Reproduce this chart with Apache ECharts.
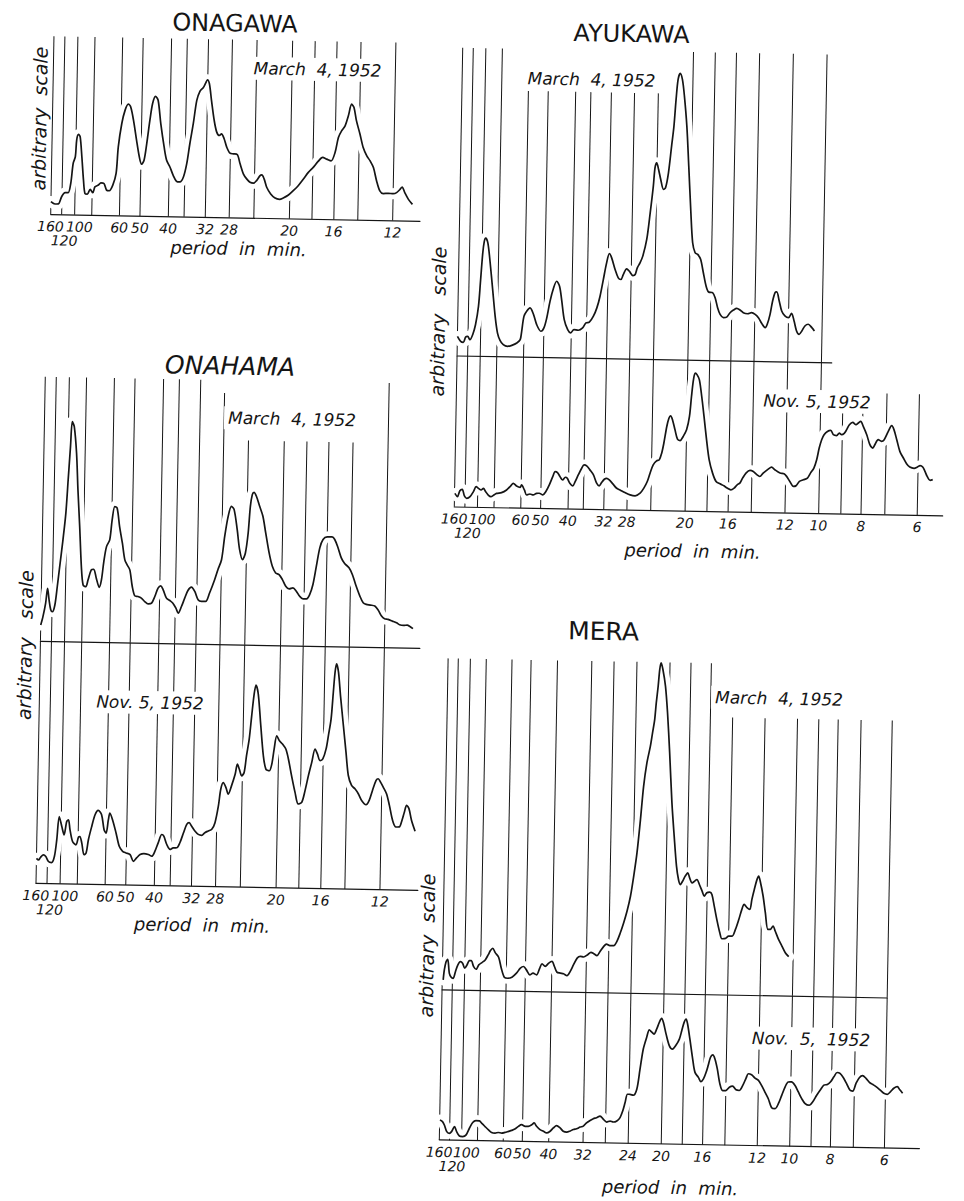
<!DOCTYPE html>
<html>
<head>
<meta charset="utf-8">
<title>Spectra of long-period sea-level oscillations</title>
<script src="https://cdn.jsdelivr.net/npm/echarts@6/dist/echarts.min.js"></script>
<style>
  html, body { margin: 0; padding: 0; background: #fff; }
  /* the sheet is laid out with a slight clockwise tilt */
  #sheet { width: 964px; height: 1201px; transform: rotate(1.05deg); transform-origin: 50% 50%; }
</style>
</head>
<body>
<div id="sheet"></div>
<script>
// ---------------------------------------------------------------------------
// Period scale: position of each period (min) on the frequency scale,
// 0 = 160 min, 100 = 12 min.
const PERIODS   = [160, 120, 100, 80, 60, 50, 40, 36, 32, 28, 24, 20, 18, 16, 14, 12, 10, 9, 8, 7, 6];
const SCALE_POS = [0, 3.2, 7.0, 12.0, 20.1, 26.1, 34.4, 39.0, 45.2, 52.2, 59.4, 69.8, 76.4, 82.8, 89.8, 100, 110.2, 116.9, 123.0, 130.2, 140.0];

// labelled periods under each station
const TICKS_ONAGAWA = [160, 120, 100, 60, 50, 40, 32, 28, 20, 16, 12];
const TICKS_AYUKAWA = [160, 120, 100, 60, 50, 40, 32, 28, 20, 16, 12, 10, 8, 6];
const TICKS_ONAHAMA = [160, 120, 100, 60, 50, 40, 32, 28, 20, 16, 12];
const TICKS_MERA    = [160, 120, 100, 60, 50, 40, 32, 24, 20, 16, 12, 10, 8, 6];

// ruled period lines
const RULES_TO_12 = [160, 120, 100, 80, 60, 50, 40, 36, 32, 28, 24, 20, 18, 16, 14, 12];
const RULES_TO_10 = RULES_TO_12.concat([10]);
const RULES_MERA  = [160, 120, 100, 80, 60, 50, 40, 32, 28, 24, 20, 18, 16, 14, 12, 10, 9, 8, 7, 6];

// spectra: [scale position, amplitude in arbitrary units]
const ONAGAWA_MAR = [[0,12.7],[1.2,10.4],[2.2,10.5],[3.1,17.8],[4.1,21.9],[5.0,21.9],[5.7,31.3],[6.3,51.3],[6.9,58],[7.2,74.7],[7.7,80.4],[8.2,78.1],[8.8,58.1],[9.4,34.8],[9.9,21.5],[10.6,20.9],[11.4,25.6],[12.2,22.3],[12.8,28.3],[13.8,30.1],[14.5,32.4],[15.4,31.8],[16.2,25.2],[17.0,24.6],[18.0,30.3],[18.9,42],[19.4,68.7],[20.3,92.1],[21.2,105.5],[22.1,111.5],[22.8,108.9],[23.7,95.6],[24.7,75.7],[25.6,59],[26.3,51.7],[27.0,55.8],[27.7,72.5],[28.5,95.9],[29.2,112.6],[30.0,119.9],[30.8,116],[31.7,92.7],[32.8,69.4],[33.6,56.1],[34.6,49.5],[35.6,41.2],[36.6,35.3],[37.6,34.7],[38.6,39.7],[39.5,53.1],[40.3,73.1],[41.2,93.2],[42.1,116.6],[43.0,126],[43.9,129.3],[44.6,134],[45.1,137.4],[45.7,133.4],[46.4,116.8],[47.3,96.8],[48.1,85.2],[48.9,81.9],[49.5,83.6],[50.3,78.7],[51.1,70.4],[52.1,64.4],[53.1,63.8],[54.2,63.2],[55.1,53.9],[56.1,44],[57.1,39],[58.1,35.7],[59.1,34.8],[60.0,37.5],[61.0,42.5],[61.5,43.2],[62.2,39.3],[63.0,31],[64.2,24.4],[65.5,20.4],[66.8,19.2],[67.9,20.6],[69.4,23.6],[70.8,28.1],[72.2,33.1],[73.7,39.9],[75.1,46.6],[76.5,51.7],[77.9,57.8],[79.2,61.8],[80.4,60.2],[81.7,58.6],[82.8,67],[83.7,82.1],[84.6,88.8],[85.6,93.8],[86.5,103.9],[87.4,115.6],[88.1,112.3],[88.9,99],[90.0,85.7],[91.0,72.5],[92.1,64.2],[93.1,59.2],[94.1,52.6],[95.1,39.3],[96.1,29.4],[97.1,26.8],[98.6,27.2],[100.0,26.9],[101.0,28],[102.0,31.4],[102.6,33.7],[103.4,28.1],[104.5,21.5],[105.7,16.5]];

const AYUKAWA_MAR = [[0,19.3],[1.0,14.4],[1.8,13.4],[2.5,18.8],[3.1,19.5],[3.8,16.2],[4.6,21.3],[5.4,31.3],[6.2,49.7],[6.7,76.4],[7.2,103.1],[7.6,114.8],[8.0,118.2],[8.7,113.2],[9.5,93.3],[10.4,66.7],[11.3,40.1],[12.1,23.4],[12.9,16.2],[13.9,11.9],[15.2,10.3],[16.5,11.4],[18.0,13.8],[19.0,17.2],[19.4,25.6],[20.0,40.6],[20.8,45.7],[21.8,49.1],[22.9,42.5],[23.9,32.5],[25.2,26],[26.1,29.4],[26.9,39.4],[27.8,56.1],[28.8,69.5],[29.7,76.3],[30.6,71.3],[31.3,58],[32.2,38.1],[33.3,28.1],[34.2,24.9],[35.2,28.3],[36.5,27.7],[37.8,30.1],[38.8,35.2],[39.8,35.9],[41.0,42],[42.0,50.4],[42.9,62.1],[43.8,78.8],[44.7,95.6],[45.5,105],[46.2,100.7],[47.3,89.1],[48.3,80.8],[49.1,79.2],[49.8,84.2],[50.8,90],[51.6,87.7],[52.7,83.4],[53.4,84.5],[54.0,91.2],[54.8,96.2],[55.6,103],[56.7,119.7],[57.6,146.4],[58.4,173.2],[58.8,191.5],[59.3,196.6],[59.9,189.9],[60.6,180],[61.5,170],[62.1,171.7],[62.9,186.8],[63.7,213.5],[64.3,233.6],[64.8,260.3],[65.3,280.3],[65.9,286.4],[66.6,280.4],[67.3,263.8],[68.2,233.8],[69.0,193.9],[69.9,147.2],[70.6,117.3],[71.4,107.3],[72.2,105.7],[73.1,100.8],[74.0,87.5],[74.9,74.2],[75.7,68.3],[76.9,67.7],[77.7,62.7],[78.5,52.8],[79.3,46.1],[80.3,42.9],[81.3,43.6],[82.3,48],[83.3,50.7],[84.3,52.5],[85.3,50.9],[86.3,48.3],[87.6,47.3],[88.8,48.4],[89.9,46.8],[90.9,43.6],[91.9,38],[93.0,33.7],[93.6,37.1],[94.4,47.1],[95.1,60.5],[95.8,68.9],[96.3,69.6],[97.1,60.6],[97.9,50.7],[98.9,45.8],[100.0,44.1],[100.9,48.5],[101.7,40.9],[102.5,31],[103.3,27.7],[104.1,31.1],[105.0,36.1],[106.0,37.9],[107.1,34.6],[107.9,31.3]];

const AYUKAWA_NOV = [[0.1,13.3],[0.9,10.1],[1.6,16.1],[2.3,17.5],[3.0,10.9],[3.7,8.6],[4.7,10.3],[5.7,15.4],[6.5,20.4],[7.2,18.8],[8.0,17.2],[8.7,18.9],[9.4,15.6],[10.2,12.3],[11.0,10.7],[11.9,12.4],[12.7,14.1],[14.2,14.9],[15.7,17.7],[16.9,21.7],[17.7,24.5],[18.7,21.9],[19.8,20.6],[20.2,23],[21.1,18],[21.8,13],[22.8,14.1],[23.8,13.2],[24.8,14.9],[25.6,15],[26.7,13.4],[27.6,16.8],[28.6,23.5],[29.6,31.9],[30.3,36.9],[31.0,36],[31.8,32],[32.6,28.7],[33.4,31.5],[34.0,30.5],[34.8,25.5],[35.7,22.9],[36.4,27.3],[37.3,34],[38.3,40.8],[39.0,44.1],[39.8,43.2],[40.8,39.3],[41.9,34.3],[42.9,26.1],[43.7,23.4],[44.4,26.8],[45.2,30.2],[45.9,31.2],[46.7,29.6],[47.8,25.7],[49.0,21.4],[50.0,19.8],[51.5,17.3],[53.1,15],[54.6,14.1],[56.1,16.9],[57.2,22],[58.2,28.7],[59.0,37.1],[59.9,45.5],[60.9,49.5],[61.7,50.6],[62.4,57.3],[63.0,67.3],[63.8,84.1],[64.4,92.4],[64.9,94.8],[65.5,90.8],[66.3,80.9],[67.1,71.6],[67.9,70.3],[68.8,74.4],[69.8,81.1],[70.6,94.5],[71.1,114.5],[71.6,131.2],[72.1,137.9],[72.7,136.3],[73.4,131.3],[74.2,114.7],[75.0,94.8],[75.9,71.5],[76.8,51.5],[77.9,38.3],[79.0,30],[80.2,27.7],[81.4,25.8],[82.4,23.6],[83.5,21.9],[84.5,23.7],[85.4,27.1],[86.2,28.8],[87.0,33.8],[88.0,38.9],[89.2,41.7],[90.2,40.7],[91.2,37.8],[92.2,35.8],[93.2,39.2],[94.7,43.3],[95.7,45.4],[96.7,42.8],[98.3,39.6],[99.5,39],[100.3,36.4],[101.3,31.4],[102.4,26.5],[103.2,27.2],[104.2,31.6],[105.4,33.3],[106.6,35.1],[107.5,40.1],[108.5,45.2],[109.3,53.6],[110.0,65.3],[110.7,73.7],[111.4,78.7],[112.4,82.1],[113.4,83.2],[114.2,78.9],[115.2,78],[116.0,80.7],[116.7,79.1],[117.4,80.1],[118.2,84.2],[119.0,89.2],[120.0,91.6],[121.0,89.3],[121.7,91.1],[122.4,92.8],[123.2,87.8],[124.3,79.5],[125.3,69.6],[126.2,66.3],[126.8,69.7],[127.8,74.8],[128.8,73.2],[129.6,74.9],[130.8,83.3],[131.8,89],[132.5,85.1],[133.4,75.1],[134.4,63.5],[135.5,56.9],[136.5,51.3],[137.5,48],[138.8,46.8],[139.8,48.2],[140.6,49.6],[141.4,48.3],[142.1,44],[142.8,39],[143.7,35.1],[144.5,35.8]];

const ONAHAMA_MAR = [[0,15.7],[0.6,24.1],[1.3,37.4],[1.8,52.5],[2.3,40.8],[2.8,31.5],[3.3,29.2],[4.0,36],[4.6,54.3],[5.2,74.4],[6.0,101.1],[6.7,127.8],[7.2,161.2],[7.7,194.6],[8.1,219.6],[8.7,214.7],[9.5,188.1],[10.1,151.4],[10.8,114.8],[11.5,74.8],[12.1,56.5],[12.9,54.9],[13.5,61.6],[14.4,71.7],[15.1,72.4],[15.9,63.5],[16.8,54.5],[17.4,61.9],[18.0,80.3],[18.7,95.3],[19.6,102.1],[20.2,122.1],[20.9,135.5],[21.6,133.9],[22.4,115.6],[23.3,99],[24.1,82.4],[24.8,77.4],[25.6,72.5],[26.4,55.9],[27.2,46.6],[28.1,46],[29.1,44.4],[30.1,41.1],[31.1,38.8],[32.1,39.6],[33.0,46.3],[33.9,54.7],[34.7,57.1],[35.4,53.1],[36.4,44.9],[37.4,42.6],[38.3,40],[39.2,35.1],[39.9,30.1],[40.8,36.8],[41.7,45.2],[42.6,53],[43.6,56.4],[44.6,52.1],[45.6,43.9],[46.6,42.3],[47.8,42.3],[48.9,50.8],[50.3,64.2],[51.2,74.3],[52.2,84.3],[53.0,107.7],[53.9,127.8],[54.8,137.9],[55.6,134.6],[56.6,114.6],[57.4,94.7],[58.3,84.7],[59.1,91.5],[59.8,111.5],[60.3,138.2],[60.8,150],[61.3,152.3],[62.0,148.4],[63.0,138.4],[64.0,128.5],[64.9,111.9],[66.0,92],[67.0,78.7],[68.0,72.1],[69.0,70.5],[70.0,65.6],[71.0,59],[72.0,56.4],[73.1,57.4],[74.1,54.2],[75.1,49.2],[76.1,46.6],[77.1,46.7],[78.0,51.1],[78.9,61.2],[79.8,79.6],[80.7,98],[81.6,106.4],[82.8,109.1],[84.2,109.2],[85.0,106.6],[86.0,98.4],[87.0,88.4],[88.0,82.8],[89.3,78.6],[90.3,72],[91.3,62],[92.6,50.5],[93.6,43.9],[94.5,42.3],[95.7,41.7],[97.0,40.8],[98.0,36.8],[99.0,30.9],[99.9,28.3],[100.9,27.7],[102.2,26.1],[103.4,24.5],[104.3,22.6],[105.5,22],[106.5,22.4],[107.4,20.8],[108.2,18.9]];

const ONAHAMA_NOV = [[0,25],[0.6,23.4],[1.2,26.1],[2.0,28.5],[2.7,26.9],[3.5,22],[4.4,21],[5.2,27.1],[5.8,43.8],[6.4,67.2],[7.2,57.3],[7.9,49],[8.6,62.4],[9.1,64.1],[9.6,54.1],[10.4,42.5],[11.4,39.2],[12.1,46.9],[12.5,47.6],[13.1,41],[13.8,29.4],[14.4,31.1],[15.0,44.5],[15.9,57.9],[16.8,69.6],[17.7,74],[18.7,69.8],[19.5,54.8],[20.1,51.5],[20.7,64.9],[21.1,71.6],[21.9,65],[23.0,51.8],[24.0,38.5],[25.0,33.6],[26.0,32],[27.2,30.4],[28.2,23.8],[29.1,27.2],[30.1,30.6],[31.2,31.7],[32.5,30.8],[33.5,29.2],[34.4,34.3],[35.3,42.7],[36.3,51.1],[36.9,49.5],[37.8,41.2],[38.8,36.3],[39.7,38],[40.7,38.1],[41.6,43.2],[42.6,53.2],[43.5,61.6],[44.2,63.4],[44.9,60.1],[45.9,55.2],[46.9,51.9],[47.9,51],[48.8,53.7],[49.8,55.5],[50.8,57.2],[51.7,63.9],[52.6,80.7],[53.2,97.4],[53.9,104.1],[54.7,99.2],[55.4,92.6],[56.3,101],[57.3,112.7],[57.9,122.8],[58.5,117.8],[59.2,111.2],[59.9,114.6],[60.5,131.3],[61.2,148],[61.8,171.4],[62.4,193.1],[62.9,202.2],[63.6,193.2],[64.5,161.6],[65.4,131.7],[66.2,118.4],[67.2,116.8],[67.9,123.5],[68.5,138.6],[69.2,151.9],[70.0,147],[70.9,143.7],[71.9,138.8],[72.7,128.9],[73.7,112.3],[74.8,95.7],[75.8,84.1],[76.8,85.8],[77.7,97.6],[78.6,112.6],[79.5,126],[80.4,139.4],[81.1,134.5],[81.9,127.9],[82.7,129.6],[83.6,139.7],[84.2,153.1],[84.9,169.8],[85.4,196.5],[85.8,216.5],[86.2,224.9],[86.8,216.6],[87.5,193.3],[88.5,163.4],[89.4,136.8],[90.2,113.5],[91.2,103.6],[92.2,100.3],[93.2,95.4],[94.2,88.8],[95.5,84.6],[96.4,89],[97.3,99],[98.3,109.1],[98.9,110.8],[99.6,107.5],[100.4,102.6],[101.4,96],[102.3,84.4],[103.3,69.5],[104.3,62.9],[105.3,63],[105.9,68],[106.7,78.1],[107.3,84.8],[108.0,81.5],[108.8,69.9],[109.9,59]];

const MERA_MAR = [[0.3,9.4],[0.6,19.4],[1.1,27.7],[1.6,30.1],[2.2,16.1],[2.8,12.2],[3.4,11.2],[4.1,17.9],[4.8,24.6],[5.6,28],[6.3,26.4],[7.0,21.5],[7.7,24.8],[8.4,29.2],[9.0,29.3],[9.8,23.3],[10.6,20.7],[11.4,25.1],[12.4,27.5],[13.4,30.2],[14.3,35.3],[15.0,39.6],[15.7,42],[16.5,37.7],[17.6,33.1],[18.5,22.2],[19.5,13.3],[20.6,12.3],[21.9,13.4],[23.3,17.5],[24.5,22.6],[25.5,24.3],[26.4,21],[27.5,16.1],[28.5,17.8],[29.6,16.2],[30.6,23],[31.3,27.4],[32.3,24.8],[33.4,28.2],[34.4,29.9],[35.2,24.9],[36.0,19.3],[37.1,18.4],[38.1,17.8],[39.2,15.9],[40.2,20.3],[41.2,27],[42.3,33.7],[43.3,35.5],[44.3,34.9],[45.6,37.3],[46.6,39.7],[47.5,38.4],[48.5,36.5],[49.5,40.9],[50.6,45.9],[51.4,48.3],[52.5,46.7],[53.7,46.8],[54.7,51.2],[55.7,59.6],[56.7,69.7],[57.7,81.4],[58.7,96.5],[59.6,116.5],[60.5,139.9],[61.4,173.3],[62.2,206.7],[63.1,230.1],[64.1,246.9],[64.7,260.3],[65.3,273.6],[65.7,290.3],[66.2,307],[66.6,323.7],[67.0,330.4],[67.6,323.8],[68.5,307.2],[69.3,280.6],[70.2,240.6],[71.2,190.6],[72.1,157.4],[73.0,127.4],[73.7,114.1],[74.3,109.1],[75.0,112.5],[75.8,117.6],[76.6,121],[77.2,116],[78.0,111],[78.8,112.8],[79.5,114.5],[80.3,109.5],[81.2,103],[81.9,98],[82.7,101.4],[83.6,102.1],[84.3,99.8],[85.1,88.2],[86.1,73.2],[87.0,61.6],[87.7,55.7],[88.8,56.1],[89.8,58.5],[90.9,58.5],[91.9,65.3],[92.9,75.3],[93.8,85.4],[94.5,90.4],[95.4,87.2],[96.3,85.5],[96.9,95.6],[97.6,105.6],[98.4,115.7],[98.9,119.1],[99.4,114.1],[100.4,99.2],[101.2,82.5],[102.1,65.9],[102.9,66],[103.7,69.4],[104.4,64.4],[105.5,56.1],[106.6,49.5],[107.7,42.9],[108.8,39]];

const MERA_NOV = [[0.1,20],[0.9,18.4],[1.5,15.1],[2.3,8.5],[3.1,6.9],[3.8,8.6],[4.7,13.7],[5.4,8.7],[6.3,4.4],[7.3,3.9],[8.4,5.6],[9.4,12.3],[10.4,18.1],[11.4,20.1],[12.5,19.9],[13.2,17.6],[14.3,14.3],[15.4,11.1],[16.4,8.5],[17.5,7.9],[18.5,8.6],[19.6,8.1],[20.6,8.8],[21.7,9.9],[22.7,10.9],[23.7,12.3],[24.8,15.1],[25.8,16.8],[26.9,15.2],[27.9,15.3],[29.0,17],[29.7,18.8],[30.5,15.5],[31.6,12.2],[32.7,10.6],[33.7,9],[34.8,10.8],[35.8,14.2],[36.8,16.6],[37.9,14.3],[38.9,11.1],[40.0,10.2],[41.0,11.2],[42.1,13],[43.1,13.7],[44.2,15.5],[45.2,16.5],[46.2,19.9],[47.3,22.3],[48.3,24.1],[49.3,25.2],[50.4,26.9],[51.5,23.6],[52.5,21],[53.6,22.1],[54.6,21.2],[55.7,22.3],[56.7,25.7],[57.5,32.4],[58.2,40.8],[58.9,49.2],[59.7,49.2],[60.7,48.3],[61.8,54.4],[62.7,74.5],[63.6,94.5],[64.6,106.3],[65.4,114],[66.1,112],[66.9,109.8],[67.7,114.8],[68.5,121.6],[69.2,125.6],[69.8,121.6],[70.7,110],[71.8,98.4],[72.8,95.2],[73.9,99.3],[74.9,105.3],[75.6,113.7],[76.3,122.1],[76.9,125.5],[77.4,120.5],[78.2,105.6],[79.2,85.6],[80.0,72.3],[81.1,67.4],[81.9,63.1],[82.7,65.9],[83.5,72.6],[84.1,79.3],[84.8,87.7],[85.5,90.1],[86.2,86.1],[87.0,76.2],[87.9,61.2],[88.8,54.6],[89.8,54.7],[90.9,58.1],[91.9,59.2],[93.0,55.6],[94.0,55],[95.1,60.1],[96.1,67.5],[96.8,71.9],[97.8,70.9],[98.9,67.7],[100.0,65.4],[101.0,60.5],[102.1,53.9],[103.2,47.3],[104.3,38.4],[105.4,37.5],[106.4,42.5],[107.4,50.9],[108.4,59.3],[109.4,64.4],[110.4,64.5],[111.5,61.2],[112.6,54.6],[113.7,48],[114.8,43.1],[116.1,41.5],[117.2,45],[118.4,51.7],[119.6,57.5],[120.6,61.9],[121.7,62.6],[122.7,65.4],[123.7,70.4],[124.7,74.8],[125.6,73.9],[126.7,69.6],[127.7,64],[128.8,57.5],[129.7,56.5],[130.7,64.3],[131.7,70],[132.7,72.1],[133.8,69.5],[134.9,65.5],[135.9,63.6],[137.0,61.4],[138.3,58.1],[139.5,54.9],[140.6,53.9],[141.6,56.7],[142.6,60.1],[143.7,61.8],[144.5,58.6],[145.4,55.3]];

// ---------------------------------------------------------------------------
// Layout: positions are on the tilted sheet; flat() maps them into the
// chart's own (unrotated) frame.
const TILT = 1.05 * Math.PI / 180;
const CX = 482, CY = 600.5;
function flat(x, y) {
  const dx = x - CX, dy = y - CY, c = Math.cos(TILT), s = Math.sin(TILT);
  return [CX + dx * c + dy * s, CY - dx * s + dy * c];
}

const INK = '#151515';
const FONT = '"DejaVu Sans", "Liberation Sans", sans-serif';

// tick-label rows: which periods go on which row, and how each row is set
const LABEL_ROWS = [
  { pick: p => p !== 120 && p !== 100, margin: 5, padding: 0 },
  { pick: p => p === 100, margin: 5, padding: [0, 0, 0, 10] },  // nudged right of its line
  { pick: p => p === 120, margin: 19, padding: [0, 0, 0, 6] }   // second row, under 160 and 100
];

// each station: its stacked plots from the bottom up
const PANELS = [
  {
    title: 'ONAGAWA', titleAt: [235, 23.5], titleSize: 24, titleItalic: false,
    foot: [50.7, 214.3], k: 3.42,
    parts: [
      { h: 178, max: 108, data: ONAGAWA_MAR, ticks: TICKS_ONAGAWA, rules: [[RULES_TO_12, 178]] }
    ],
    notes: [['March  4, 1952', 317.5, 69.5]],
    yName: ['arbitrary  scale', 39.5, 118.5],
    xName: [238.5, 248.5]
  },
  {
    title: 'AYUKAWA', titleAt: [631.5, 34], titleSize: 24, titleItalic: false,
    foot: [454.3, 506.7], k: 3.307,
    parts: [
      { h: 151, max: 147.7, data: AYUKAWA_NOV, ticks: TICKS_AYUKAWA,
        rules: [[RULES_TO_10, 151], [[9, 8, 7, 6], 121]] },
      { h: 308, max: 113.3, data: AYUKAWA_MAR,
        rules: [[[160, 120, 100, 80], 308], [[60, 50, 40, 36, 32, 28, 24], 266], [[20, 18, 16, 14, 12, 10], 308]] }
    ],
    notes: [['March  4, 1952', 591.5, 79.5], ['Nov. 5, 1952', 817, 401.5]],
    yName: ['arbitrary   scale', 438, 321.5],
    xName: [692.5, 551]
  },
  {
    title: 'ONAHAMA', titleAt: [230, 366], titleSize: 25, titleItalic: true,
    foot: [36, 883.3], k: 3.44,
    parts: [
      { h: 242.6, max: 111, data: ONAHAMA_NOV, ticks: TICKS_ONAHAMA, rules: [[RULES_TO_12, 242.6]] },
      { h: 264, max: 110.3, data: ONAHAMA_MAR,
        rules: [[[160, 120, 100, 80, 60, 50, 40, 36, 32], 264], [[28], 251], [[24, 20, 18, 16, 14], 204], [[12], 264]] }
    ],
    notes: [['March  4, 1952', 292, 419], ['Nov. 5, 1952', 150, 702.5]],
    yName: ['arbitrary   scale', 25, 645],
    xName: [202, 925]
  },
  {
    title: 'MERA', titleAt: [603.5, 631.5], titleSize: 25, titleItalic: false,
    foot: [439.3, 1140], k: 3.18,
    parts: [
      { h: 150.7, max: 151, data: MERA_NOV, ticks: TICKS_MERA, rules: [[RULES_MERA, 150.7]] },
      { h: 331, max: 140, data: MERA_MAR,
        rules: [[[160, 120, 100, 80, 60, 50, 40, 32, 28, 24, 20, 18, 16], 331], [[14, 12, 10, 9, 8, 7, 6], 277]] }
    ],
    notes: [['March  4, 1952', 779, 698.5], ['Nov.  5,  1952', 811, 1039]],
    yName: ['arbitrary  scale', 427, 945.5],
    xName: [670, 1187.5]
  }
];

const scalePos = p => SCALE_POS[PERIODS.indexOf(p)];

// ---------------------------------------------------------------------------
const grid = [], xAxis = [], yAxis = [], series = [], graphic = [];

function ruleItem(params, api) {
  const a = api.coord([api.value(0), 0]);
  const b = api.coord([api.value(0), api.value(1)]);
  return {
    type: 'line',
    shape: { x1: a[0], y1: a[1], x2: b[0], y2: b[1] },
    style: { stroke: INK, lineWidth: 1 }
  };
}

function text(str, at, size, opts) {
  const p = flat(at[0], at[1]);
  graphic.push(Object.assign({
    type: 'text', x: p[0], y: p[1], z: 100, silent: true,
    style: Object.assign({
      text: str, fill: INK, fontSize: size, fontFamily: FONT,
      fontStyle: 'italic', align: 'center', verticalAlign: 'middle'
    }, opts && opts.style)
  }, opts && opts.el));
}

// a label-only axis row along the bottom of a grid
function labelRow(gi, max, periods, row) {
  const byPos = new Map(periods.map(p => [scalePos(p), p]));
  return {
    gridIndex: gi, type: 'value', position: 'bottom', offset: 0, min: 0, max: max, z: 5,
    axisLine: { show: false }, axisTick: { show: false }, splitLine: { show: false },
    axisLabel: {
      customValues: periods.map(scalePos),
      showMinLabel: true, showMaxLabel: true, hideOverlap: false,
      margin: row.margin, padding: row.padding,
      fontSize: 14, lineHeight: 14, fontStyle: 'italic', fontFamily: FONT, color: INK,
      formatter: v => String(byPos.get(v))
    }
  };
}

PANELS.forEach(panel => {
  const foot = flat(panel.foot[0], panel.foot[1]);
  let bottom = foot[1];
  panel.parts.forEach(part => {
    const gi = grid.length;
    grid.push({ left: foot[0], top: bottom - part.h, width: part.max * panel.k, height: part.h });
    bottom -= part.h;

    // axis line (the zero line of this trace)
    const xi = xAxis.length;
    xAxis.push({
      gridIndex: gi, type: 'value', position: 'bottom', min: 0, max: part.max, z: 5,
      axisLine: { show: true, onZero: false, lineStyle: { color: INK, width: 1.2 } },
      axisTick: { show: false }, splitLine: { show: false }, axisLabel: { show: false }
    });
    if (part.ticks) {
      LABEL_ROWS.forEach(row => {
        const periods = part.ticks.filter(row.pick);
        if (periods.length) xAxis.push(labelRow(gi, part.max, periods, row));
      });
    }
    yAxis.push({ gridIndex: gi, type: 'value', min: 0, max: part.h, show: false });

    const rules = [];
    part.rules.forEach(([periods, top]) => periods.forEach(p => rules.push([scalePos(p), top])));
    series.push({
      type: 'custom', xAxisIndex: xi, yAxisIndex: gi, z: 1, silent: true, clip: false,
      data: rules, renderItem: ruleItem
    });
    // white margin that breaks the ruled lines where the trace crosses them
    series.push({
      type: 'line', xAxisIndex: xi, yAxisIndex: gi, z: 2, silent: true, clip: false,
      data: part.data, symbol: 'none', smooth: 0.3,
      lineStyle: { color: '#ffffff', width: 11, cap: 'round', join: 'round' }
    });
    series.push({
      type: 'line', xAxisIndex: xi, yAxisIndex: gi, z: 3, silent: true, clip: false,
      data: part.data, symbol: 'none', smooth: 0.3,
      lineStyle: { color: INK, width: 1.7, join: 'round' }
    });
  });

  text(panel.title, panel.titleAt, panel.titleSize,
       { style: { fontStyle: panel.titleItalic ? 'italic' : 'normal' } });
  panel.notes.forEach(([str, x, y]) =>
    text(str, [x, y], 17, { style: { backgroundColor: '#ffffff', padding: [3, 4] } }));
  text(panel.yName[0], [panel.yName[1], panel.yName[2]], 19, { el: { rotation: Math.PI / 2 } });
  text('period  in  min.', panel.xName, 18);
});

const chart = echarts.init(document.getElementById('sheet'), null, { renderer: 'svg', width: 964, height: 1201 });
chart.setOption({
  animation: false,
  backgroundColor: '#ffffff',
  grid, xAxis, yAxis, series, graphic
});
</script>
</body>
</html>
